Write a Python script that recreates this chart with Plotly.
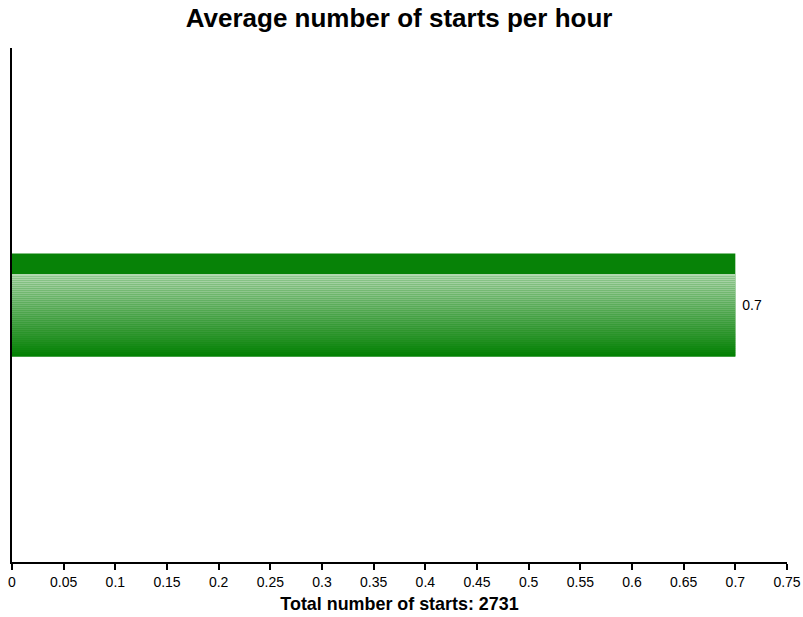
import plotly.graph_objects as go

# ---- data ----
categories = ["Starts per hour"]
avg_starts_per_hour = [0.7]
total_starts = 2731
x_tick_values = [0, 0.05, 0.1, 0.15, 0.2, 0.25, 0.3, 0.35, 0.4, 0.45, 0.5, 0.55, 0.6, 0.65, 0.7, 0.75]
x_tick_labels = ["0", "0.05", "0.1", "0.15", "0.2", "0.25", "0.3", "0.35", "0.4", "0.45",
                 "0.5", "0.55", "0.6", "0.65", "0.7", "0.75"]

FONT = "Liberation Sans, Arial, sans-serif"

fig = go.Figure()

# base bar (full width, dark green) carrying the value label
fig.add_trace(go.Bar(
    x=avg_starts_per_hour, y=categories, orientation="h",
    width=1.0, marker=dict(color="#078207", line=dict(width=0)),
    text=[f" {v:g}" for v in avg_starts_per_hour], textposition="outside",
    constraintext="none",
    textfont=dict(family=FONT, size=14, color="#000"),
    cliponaxis=False, hoverinfo="skip", showlegend=False,
))

# gradient strips (light at top -> dark green at bottom), below the dark top band
N = 41
band = 0.2
strip_w = (1.0 - band) / N
light = (178, 216, 176)
dark = (3, 128, 3)
offsets, widths, colors = [], [], []
for i in range(N):
    t = i / (N - 1)
    r = round(light[0] + (dark[0] - light[0]) * t)
    g = round(light[1] + (dark[1] - light[1]) * t)
    b = round(light[2] + (dark[2] - light[2]) * t)
    top = 0.5 - band - i * strip_w
    offsets.append(top - strip_w * 1.02)
    widths.append(strip_w * 1.04)
    colors.append(f"rgb({r},{g},{b})")

for o, w, c in zip(offsets, widths, colors):
    fig.add_trace(go.Bar(
        x=avg_starts_per_hour, y=categories, orientation="h",
        offset=o, width=w, marker=dict(color=c, line=dict(width=0)),
        hoverinfo="skip", showlegend=False,
    ))

fig.update_layout(
    width=803, height=617,
    margin=dict(l=12, r=16, t=48, b=55, autoexpand=False),
    paper_bgcolor="white", plot_bgcolor="white",
    barmode="overlay",
    font=dict(family=FONT, size=14, color="#000"),
    title=dict(text="<b>Average number of starts per hour</b>",
               x=0.497, xanchor="center", y=1 - 18 / 617, yanchor="middle",
               yref="container", font=dict(family=FONT, size=26, color="#000")),
    xaxis=dict(
        range=[0, 0.75], tickvals=x_tick_values, ticktext=x_tick_labels,
        showgrid=False, zeroline=False, showline=True, linecolor="#000", linewidth=2,
        ticks="outside", ticklen=6, tickwidth=1.5, tickcolor="#000",
        tickfont=dict(family=FONT, size=14, color="#000"),
        automargin=False,
        title=dict(text=f"<b>Total number of starts: {total_starts}</b>",
                   font=dict(family=FONT, size=17.9, color="#000"), standoff=9),
    ),
    yaxis=dict(
        range=[-2.5, 2.5], showgrid=False, zeroline=False, showticklabels=False,
        showline=True, linecolor="#000", linewidth=2, ticks="", automargin=False,
    ),
)

fig.write_html(
    "out.html",
    config={"displayModeBar": False},
    post_script="document.body.style.margin='0';document.body.style.overflow='hidden';",
)
